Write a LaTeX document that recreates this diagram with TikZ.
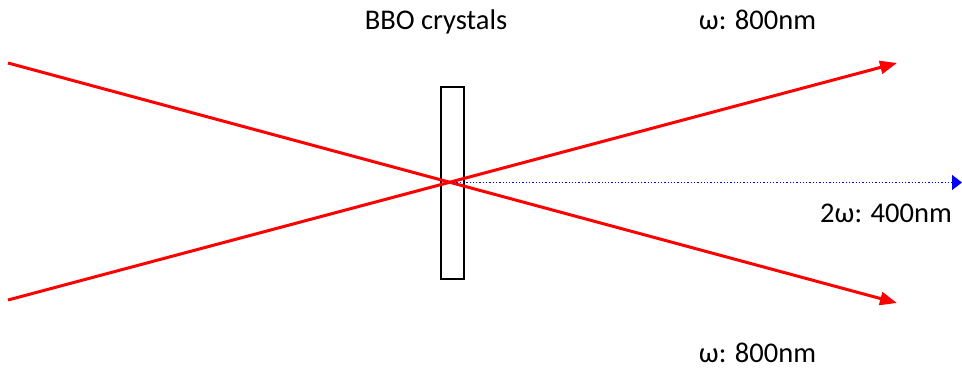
\documentclass[tikz,border=0pt]{standalone}
\usepackage{fontspec}
\setmainfont{Carlito}
\usetikzlibrary{arrows.meta}
\begin{document}
\begin{tikzpicture}[x=1pt,y=-1pt,
  beam/.style={draw=red,line width=3pt,-{Triangle[length=17pt,width=13pt]}},
  shg/.style={draw=blue,line width=1.3pt,dotted,-{Triangle[length=10pt,width=15pt]}},
  crystal/.style={draw=black,line width=1.5pt,fill=white,minimum width=23pt,minimum height=192pt,inner sep=0pt},
  lbl/.style={font=\fontsize{28.5}{34}\selectfont,inner sep=0pt,anchor=base}]
\useasboundingbox (0,0) rectangle (962,369);
\node[crystal] (bbo) at (452.5,183) {};
\coordinate (ul) at (8,63);
\coordinate (ll) at (8,300);
\coordinate (ur) at (897,63);
\coordinate (lr) at (897,303);
\coordinate (c) at (453,182.5);
\coordinate (br) at (962,182.5);
\draw[beam] (ll) -- (ur);
\draw[beam] (ul) -- (lr);
\draw[shg] (c) -- (br);
\node[lbl] (t1) at (436,30) {BBO crystals};
\node[lbl] (t2) at (757.5,30) {ω: 800nm};
\node[lbl] (t3) at (886,222) {2ω: 400nm};
\node[lbl] (t4) at (757.5,362) {ω: 800nm};
\end{tikzpicture}
\end{document}
